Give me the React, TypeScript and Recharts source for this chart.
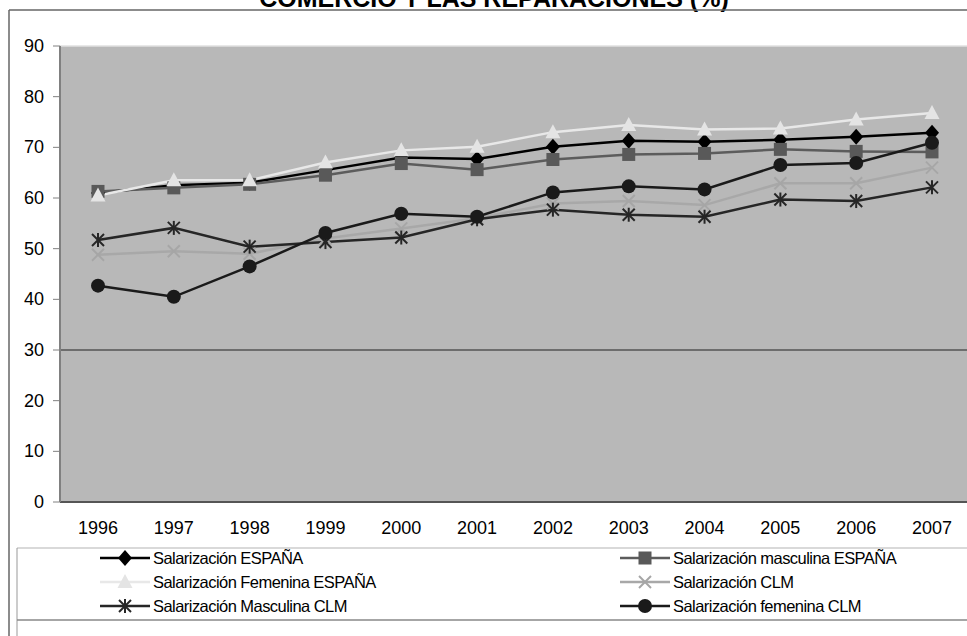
import React from "react"
import { LineChart, Line, XAxis, YAxis, CartesianGrid, ReferenceLine } from "recharts"

const years = ["1996", "1997", "1998", "1999", "2000", "2001", "2002", "2003", "2004", "2005", "2006", "2007"]
const salEspana = [61, 62.5, 63, 65.5, 68, 67.7, 70.1, 71.3, 71.1, 71.5, 72.1, 72.9]
const salMascEspana = [61.3, 62, 62.7, 64.5, 66.8, 65.6, 67.6, 68.6, 68.8, 69.6, 69.2, 69.1]
const salFemEspana = [60.5, 63.5, 63.5, 67, 69.4, 70.1, 73, 74.4, 73.5, 73.7, 75.5, 76.8]
const salClm = [48.8, 49.5, 49, 52, 54, 56, 58.9, 59.4, 58.6, 62.9, 62.9, 66]
const salMascClm = [51.7, 54.1, 50.4, 51.3, 52.2, 55.8, 57.7, 56.7, 56.3, 59.7, 59.4, 62.1]
const salFemClm = [42.7, 40.5, 46.5, 53.1, 56.9, 56.3, 61.1, 62.3, 61.7, 66.5, 66.9, 70.9]
const yTicks = [0, 10, 20, 30, 40, 50, 60, 70, 80, 90]

const data = years.map((year, i) => ({
    year,
    esp: salEspana[i],
    mascEsp: salMascEspana[i],
    femEsp: salFemEspana[i],
    clm: salClm[i],
    mascClm: salMascClm[i],
    femClm: salFemClm[i],
}))

const FONT = "'Liberation Sans', Arial, sans-serif"

type Shape = "diamond" | "square" | "triangle" | "x" | "star" | "circle"

function Marker({ cx, cy, shape, color }: { cx: number; cy: number; shape: Shape; color: string }) {
    if (cx == null || cy == null) return null
    switch (shape) {
        case "diamond":
            return <path d={`M${cx},${cy - 8} L${cx + 7},${cy} L${cx},${cy + 8} L${cx - 7},${cy} Z`} fill={color} />
        case "square":
            return <rect x={cx - 6.5} y={cy - 6.5} width={13} height={13} fill={color} />
        case "triangle":
            return <path d={`M${cx},${cy - 8} L${cx + 7.5},${cy + 6} L${cx - 7.5},${cy + 6} Z`} fill={color} />
        case "x":
            return (
                <g stroke={color} strokeWidth={2}>
                    <line x1={cx - 6} y1={cy - 6} x2={cx + 6} y2={cy + 6} />
                    <line x1={cx - 6} y1={cy + 6} x2={cx + 6} y2={cy - 6} />
                </g>
            )
        case "star":
            return (
                <g stroke={color} strokeWidth={2}>
                    <line x1={cx - 6} y1={cy - 6} x2={cx + 6} y2={cy + 6} />
                    <line x1={cx - 6} y1={cy + 6} x2={cx + 6} y2={cy - 6} />
                    <line x1={cx} y1={cy - 7} x2={cx} y2={cy + 7} />
                </g>
            )
        default:
            return <circle cx={cx} cy={cy} r={7} fill={color} />
    }
}

// y tick label, right edge a bit further from the axis
function YTick(props: any) {
    const { y, payload } = props
    return (
        <text x={44} y={y} dy={6} textAnchor="end" fontSize={18} fontFamily={FONT} fill="#000">
            {payload.value}
        </text>
    )
}

const series: { key: string; name: string; color: string; line: string; shape: Shape }[] = [
    { key: "esp", name: "Salarización ESPAÑA", color: "#000000", line: "#000000", shape: "diamond" },
    { key: "mascEsp", name: "Salarización masculina ESPAÑA", color: "#595959", line: "#5c5c5c", shape: "square" },
    { key: "femEsp", name: "Salarización Femenina ESPAÑA", color: "#e4e4e4", line: "#e8e8e8", shape: "triangle" },
    { key: "clm", name: "Salarización CLM", color: "#a6a6a6", line: "#a8a8a8", shape: "x" },
    { key: "mascClm", name: "Salarización Masculina CLM", color: "#262626", line: "#262626", shape: "star" },
    { key: "femClm", name: "Salarización femenina CLM", color: "#1a1a1a", line: "#1a1a1a", shape: "circle" },
]

// legend order: left column then right column, row by row
const legendCells = [
    { s: 0, x: 100, y: 558 },
    { s: 1, x: 620, y: 558 },
    { s: 2, x: 100, y: 582 },
    { s: 3, x: 620, y: 582 },
    { s: 4, x: 100, y: 606 },
    { s: 5, x: 620, y: 606 },
]

export default function App() {
    return (
        <div style={{ position: "absolute", left: 0, top: 0, width: 967, height: 636, overflow: "hidden", background: "#fff", fontFamily: FONT }}>
            <LineChart width={975} height={636} data={data} margin={{ top: 46, right: 5, left: 10, bottom: 88 }}>
                <CartesianGrid horizontal={false} vertical={false} fill="#b8b8b8" />
                <XAxis
                    dataKey="year"
                    padding={{ left: 38, right: 38 }}
                    axisLine={{ stroke: "#555", strokeWidth: 2 }}
                    tickLine={false}
                    tick={{ fill: "#000", fontSize: 18, fontFamily: FONT }}
                    dy={11}
                    height={46}
                    interval={0}
                />
                <YAxis
                    domain={[0, 90]}
                    ticks={yTicks}
                    width={50}
                    axisLine={{ stroke: "#808080", strokeWidth: 2 }}
                    tickLine={{ stroke: "#808080" }}
                    tickSize={7}
                    tick={<YTick />}
                    interval={0}
                />
                <ReferenceLine y={90} stroke="#e0e0e0" strokeWidth={1.5} />
                <ReferenceLine y={30} stroke="#555" strokeWidth={1.5} />
                {series.map((s) => (
                    <Line
                        key={s.key}
                        dataKey={s.key}
                        name={s.name}
                        type="linear"
                        stroke={s.line}
                        strokeWidth={2.5}
                        isAnimationActive={false}
                        dot={(p: any) => <Marker key={`${s.key}-${p.index}`} cx={p.cx} cy={p.cy} shape={s.shape} color={s.color} />}
                        activeDot={false}
                    />
                ))}
            </LineChart>
            <svg width={967} height={636} style={{ position: "absolute", left: 0, top: 0, pointerEvents: "none" }}>
                <text x={494} y={7} textAnchor="middle" fontSize={25} fontWeight="bold" fontFamily={FONT} fill="#000">
                    COMERCIO Y LAS REPARACIONES (%)
                </text>
                <line x1={9} y1={10} x2={967} y2={10} stroke="#666" strokeWidth={1.5} />
                <line x1={9} y1={10} x2={9} y2={636} stroke="#666" strokeWidth={1.5} />
                <line x1={17} y1={548} x2={967} y2={548} stroke="#ccc" strokeWidth={1.5} />
                <line x1={17} y1={548} x2={17} y2={636} stroke="#999" strokeWidth={1} />
                <line x1={17} y1={620} x2={967} y2={620} stroke="#888" strokeWidth={1.5} />
                {legendCells.map((c) => {
                    const s = series[c.s]
                    return (
                        <g key={s.key}>
                            <line x1={c.x} y1={c.y} x2={c.x + 50} y2={c.y} stroke={s.line} strokeWidth={2.5} />
                            <Marker cx={c.x + 25} cy={c.y} shape={s.shape} color={s.color} />
                            <text x={c.x + 53} y={c.y + 6} fontSize={16.5} letterSpacing={-0.55} fontFamily={FONT} fill="#000">
                                {s.name}
                            </text>
                        </g>
                    )
                })}
            </svg>
        </div>
    )
}
